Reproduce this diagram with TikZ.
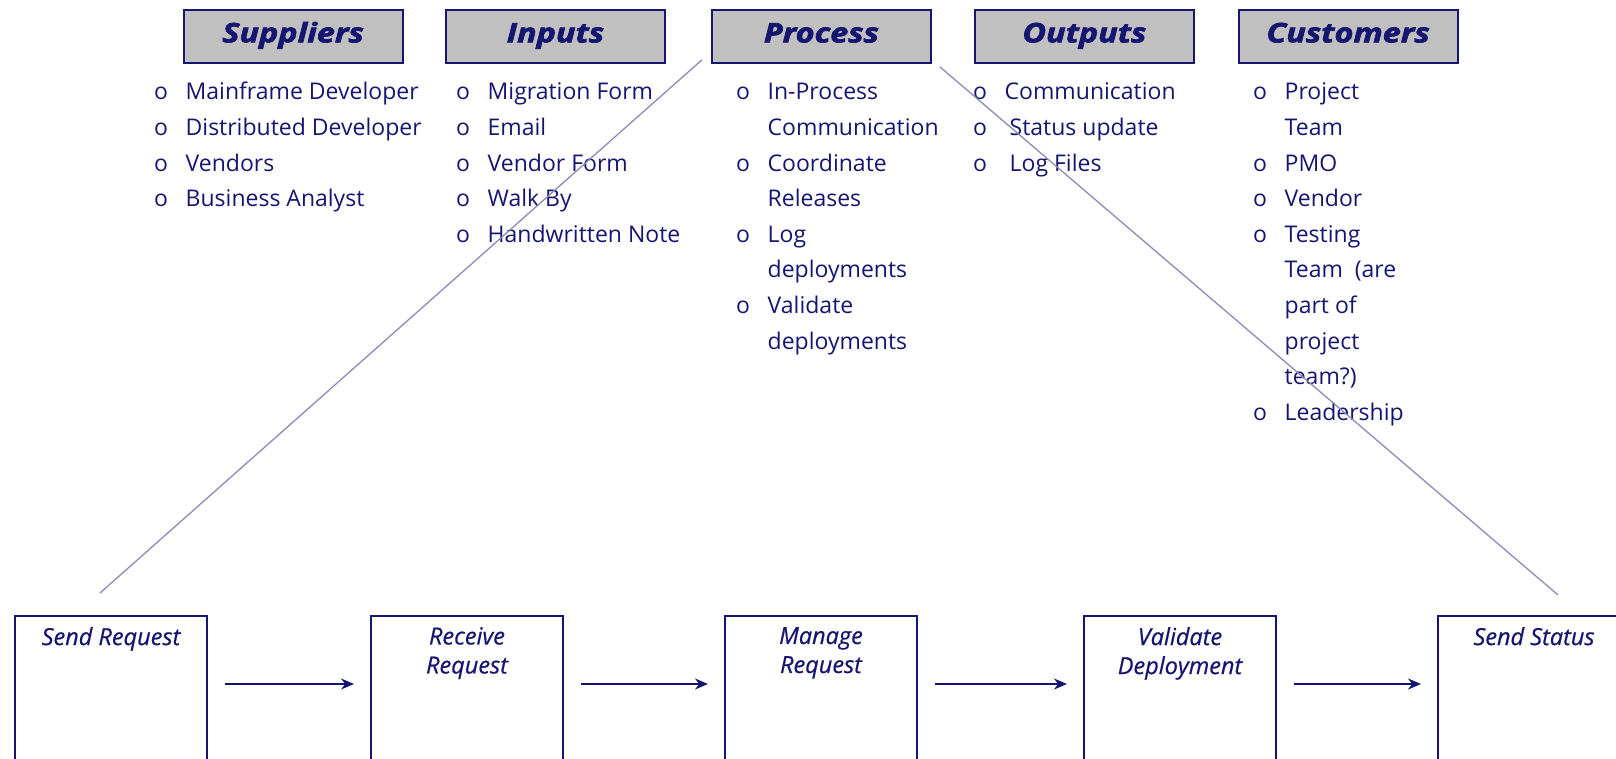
\documentclass[tikz,border=0pt]{standalone}
\usepackage{fontspec}
\setmainfont{Open Sans}
\usetikzlibrary{arrows.meta,calc}
\definecolor{ink}{RGB}{22,22,112}
\definecolor{hdrfill}{RGB}{192,192,192}
\definecolor{guide}{RGB}{140,140,185}
\newlength{\bulw}
\setlength{\bulw}{31.5pt}
\newcommand{\itm}[1]{\makebox[\bulw][l]{o}#1}
\newcommand{\cnt}[1]{\hspace*{\bulw}#1}

\begin{document}
\begin{tikzpicture}[x=1pt,y=-1pt,
  hdr/.style={draw=ink, line width=1.8pt, fill=hdrfill, minimum width=219pt,
    minimum height=53pt, anchor=north west, inner sep=0pt, text=ink,
    text height=19pt, text depth=7pt,
    font={\fontsize{27}{30}\selectfont\bfseries\itshape\addfontfeatures{FakeBold=2.5,FakeStretch=1.2}}},
  listtxt/.style={anchor=base west, inner sep=0pt, text=ink,
    font={\fontsize{23}{35.6}\selectfont}},
  stepbox/.style={draw=ink, line width=2pt, minimum width=192pt,
    minimum height=220pt, anchor=north west, inner sep=0pt},
  steplbl/.style={anchor=north, inner sep=0pt, text=ink, align=center,
    font={\fontsize{23.5}{29}\selectfont\itshape\addfontfeatures{FakeBold=0.6}}},
  flow/.style={draw=ink, line width=2.5pt, -{Stealth[length=13pt,width=11pt]}},
  guideline/.style={draw=guide, line width=1.3pt}]

\useasboundingbox (0,0) rectangle (1616,759);
\fill[white] (0,0) rectangle (1616,759);
\clip (0,0) rectangle (1616,759);

% SIPOC column headers
\node[hdr] (sup)  at (182.7,9) {Suppliers};
\node[hdr] (inp)  at (445,9)   {Inputs};
\node[hdr] (proc) at (711,9)   {Process};
\node[hdr] (outp) at (974,9)   {Outputs};
\node[hdr] (cust) at (1237.7,9) {Customers};

% column lists
\node[listtxt] (suplist) at (154,100) {\begin{tabular}[t]{@{}l@{}}
\itm{Mainframe Developer}\\ \itm{Distributed Developer}\\ \itm{Vendors}\\ \itm{Business Analyst}
\end{tabular}};
\node[listtxt] (inplist) at (456,100) {\begin{tabular}[t]{@{}l@{}}
\itm{Migration Form}\\ \itm{Email}\\ \itm{Vendor Form}\\ \itm{Walk By}\\ \itm{Handwritten Note}
\end{tabular}};
\node[listtxt] (proclist) at (736,100) {\begin{tabular}[t]{@{}l@{}}
\itm{In-Process}\\ \cnt{Communication}\\ \itm{Coordinate}\\ \cnt{Releases}\\
\itm{Log}\\ \cnt{deployments}\\ \itm{Validate}\\ \cnt{deployments}
\end{tabular}};
\node[listtxt] (outlist) at (973,100) {\begin{tabular}[t]{@{}l@{}}
\itm{Communication}\\ \itm{\hspace{5pt}Status update}\\ \itm{\hspace{5pt}Log Files}
\end{tabular}};
\node[listtxt] (custlist) at (1253,100) {\begin{tabular}[t]{@{}l@{}}
\itm{Project}\\ \cnt{Team}\\ \itm{PMO}\\ \itm{Vendor}\\ \itm{Testing}\\
\cnt{Team\ \ (are}\\ \cnt{part of}\\ \cnt{project}\\ \cnt{team?)}\\ \itm{Leadership}
\end{tabular}};

% process steps
\node[stepbox] (s1) at (14,615)   {};
\node[stepbox] (s2) at (370,615)  {};
\node[stepbox] (s3) at (724,615)  {};
\node[stepbox] (s4) at (1083,615) {};
\node[stepbox] (s5) at (1437,615) {};

\node[steplbl] (l1) at ($(s1.north)+(0,12)$) {Send Request};
\node[steplbl] (l2) at ($(s2.north)+(0,12)$) {Receive\\Request};
\node[steplbl] (l3) at ($(s3.north)+(0,12)$) {Manage\\Request};
\node[steplbl] (l4) at ($(s4.north)+(0,12)$) {Validate\\Deployment};
\node[steplbl] (l5) at ($(s5.north)+(0,12)$) {Send Status};

\draw[flow] ($(s1.north east)+(17,69)$) -- ($(s2.north west)+(-16,69)$);
\draw[flow] ($(s2.north east)+(17,69)$) -- ($(s3.north west)+(-16,69)$);
\draw[flow] ($(s3.north east)+(17,69)$) -- ($(s4.north west)+(-16,69)$);
\draw[flow] ($(s4.north east)+(17,69)$) -- ($(s5.north west)+(-16,69)$);

% zoom-out guides from the Process header to the step row
\coordinate (g1a) at ($(proc.south west)+(-9,-4)$);
\coordinate (g1b) at ($(s1.north)+(-11,-22)$);
\coordinate (g2a) at ($(proc.south east)+(8,3)$);
\coordinate (g2b) at ($(s5.north west)+(121,-20)$);
\draw[guideline] (g1a) -- (g1b);
\draw[guideline] (g2a) -- (g2b);
\end{tikzpicture}
\end{document}
